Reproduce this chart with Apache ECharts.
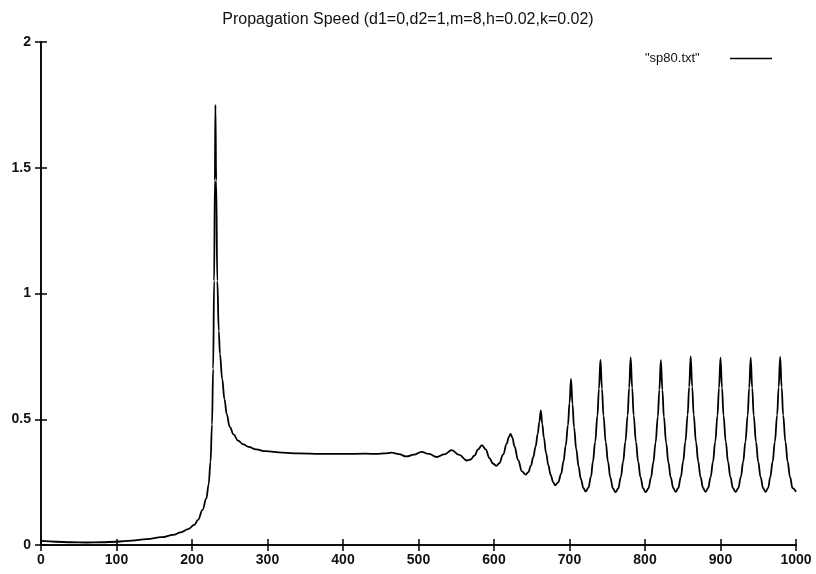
<!DOCTYPE html>
<html>
<head>
<meta charset="utf-8">
<script src="https://cdn.jsdelivr.net/npm/echarts@6/dist/echarts.min.js"></script>
<style>
  html, body { margin: 0; padding: 0; background: #fff; }
  #chart { width: 816px; height: 574px; }
</style>
</head>
<body>
<div id="chart"></div>
<script>
// values: [x, speed]
const rampPts = [
    [0, 0.016], [20, 0.013], [40, 0.011], [60, 0.010], [80, 0.011], [100, 0.013],
    [120, 0.017], [140, 0.023], [160, 0.031], [175, 0.040], [185, 0.050], [195, 0.063],
    [203, 0.080], [208, 0.100], [214, 0.140], [219, 0.185], [222, 0.240], [224.5, 0.330],
    [226.5, 0.480], [228, 0.700], [229.3, 1.050], [230.3, 1.450]
];
const spikePts = [
    [231, 1.750], [232, 1.450], [233.5, 1.050], [235.5, 0.850], [237, 0.760], [240, 0.660],
    [243, 0.580], [246, 0.520], [250, 0.470], [255, 0.440], [261, 0.415], [268, 0.400],
    [275, 0.390], [285, 0.380], [297, 0.373]
];
const plateauPts = [
    [320, 0.367], [341, 0.364], [370, 0.362], [400, 0.362], [430, 0.363], [445, 0.362],
    [455, 0.364], [464.5, 0.367], [474, 0.361], [484, 0.352], [494, 0.359], [504, 0.370],
    [514, 0.362], [524, 0.350], [534, 0.360], [544, 0.377], [554, 0.358], [564, 0.336]
];
const growPts = [
    [569, 0.340], [574, 0.355], [579, 0.380], [584, 0.397], [589, 0.380], [594, 0.345],
    [598.5, 0.324], [603, 0.315], [607, 0.325], [612, 0.359], [617, 0.404], [619.5, 0.429],
    [622, 0.442], [624.5, 0.426], [627, 0.393], [632, 0.337], [637, 0.293], [642, 0.280],
    [645.5, 0.290], [649, 0.316], [652, 0.349], [655, 0.390], [658, 0.443], [660, 0.489],
    [662, 0.535], [664, 0.481], [666, 0.428], [669, 0.365], [672, 0.317], [675, 0.279],
    [678.5, 0.249], [681, 0.237], [685, 0.249], [689, 0.284], [692, 0.332], [695, 0.395],
    [698, 0.478], [700, 0.565], [702, 0.660], [704, 0.560], [706, 0.468], [709, 0.380],
    [712, 0.313], [715, 0.263], [718.5, 0.226], [721.5, 0.213]
];
const wavePts = [
    [725, 0.228], [728.5, 0.272], [731, 0.331], [734, 0.410], [737, 0.514], [739, 0.622],
    [741, 0.737], [743, 0.622], [745, 0.514], [748, 0.409], [751, 0.330], [754, 0.269],
    [757.5, 0.225], [761, 0.210],
    [764.5, 0.225], [768, 0.270], [771, 0.330], [774, 0.410], [777, 0.515], [779, 0.626],
    [781, 0.746], [783, 0.626], [785, 0.515], [788, 0.410], [791, 0.330], [794, 0.270],
    [797.5, 0.225], [801, 0.210],
    [804.5, 0.225], [808, 0.269], [811, 0.328], [814, 0.407], [817, 0.510], [819, 0.618],
    [821, 0.735], [823, 0.618], [825, 0.510], [828, 0.407], [831, 0.328], [834, 0.270],
    [837.5, 0.226], [840.5, 0.211],
    [844, 0.226], [847.5, 0.271], [850.5, 0.331], [853.5, 0.411], [856.5, 0.518], [858.5, 0.629],
    [860.5, 0.750], [862.5, 0.629], [864.5, 0.518], [867.5, 0.411], [870.5, 0.331], [873.5, 0.271],
    [877, 0.226], [880, 0.211],
    [883.5, 0.226], [887, 0.271], [890, 0.330], [893, 0.410], [896, 0.515], [898, 0.625],
    [900, 0.745], [902, 0.625], [904, 0.515], [907, 0.410], [910, 0.330], [913, 0.271],
    [916.5, 0.226], [920, 0.211],
    [923.5, 0.226], [927, 0.271], [930, 0.330], [933, 0.410], [936, 0.515], [938, 0.625],
    [940, 0.745], [942, 0.625], [944, 0.515], [947, 0.410], [950, 0.330], [953, 0.271],
    [956.5, 0.226], [959.5, 0.211],
    [963, 0.226], [966, 0.271], [969, 0.330], [972, 0.410], [975, 0.516], [977, 0.627],
    [979, 0.748], [981, 0.627], [983, 0.516], [986, 0.410], [989, 0.330], [992, 0.271],
    [995.5, 0.226], [1000, 0.212]
];

const speed = rampPts.concat(spikePts, plateauPts, growPts, wavePts);

const font = 'Liberation Sans, Arial, sans-serif';
const axisLine = {show: true, lineStyle: {color: '#000', width: 1.5}};
const ticks = {show: true, inside: true, length: 6, lineStyle: {color: '#000', width: 1.5}};

const option = {
    backgroundColor: '#fff',
    animation: false,
    title: {
        text: 'Propagation Speed (d1=0,d2=1,m=8,h=0.02,k=0.02)',
        left: 'center',
        top: 7,
        textStyle: {fontFamily: font, fontSize: 16, fontWeight: 'normal', color: '#111'}
    },
    legend: {
        data: ['"sp80.txt"'],
        right: 39,
        top: 47,
        align: 'right',
        icon: 'rect',
        itemWidth: 42,
        itemHeight: 1.5,
        formatter: name => name + '       ',
        textStyle: {fontFamily: font, fontSize: 13, color: '#111'}
    },
    grid: {left: 41, right: 20, top: 42, bottom: 29},
    xAxis: [
        {
            type: 'value', min: 0, max: 1000, interval: 100,
            axisLine: axisLine, axisTick: ticks, splitLine: {show: false},
            axisLabel: {
                fontFamily: font, fontSize: 14, fontWeight: 'bold', color: '#111', margin: 8,
                formatter: v => String(v)
            }
        },
        {
            type: 'value', position: 'top', min: 0, max: 1000, interval: 100,
            axisLine: axisLine, axisTick: ticks, splitLine: {show: false},
            axisLabel: {show: false}
        }
    ],
    yAxis: [
        {
            type: 'value', min: 0, max: 2, interval: 0.5,
            axisLine: axisLine, axisTick: ticks, splitLine: {show: false},
            axisLabel: {fontFamily: font, fontSize: 14, fontWeight: 'bold', color: '#111', margin: 10}
        },
        {
            type: 'value', position: 'right', min: 0, max: 2, interval: 0.5,
            axisLine: axisLine, axisTick: ticks, splitLine: {show: false},
            axisLabel: {show: false}
        }
    ],
    series: [
        {
            name: '"sp80.txt"',
            type: 'line',
            data: speed,
            symbol: 'none',
            smooth: 0.4,
            smoothMonotone: 'x',
            lineStyle: {color: '#000', width: 1.8},
            itemStyle: {color: '#000'}
        }
    ]
};

const chart = echarts.init(document.getElementById('chart'));
chart.setOption(option);
</script>
</body>
</html>
